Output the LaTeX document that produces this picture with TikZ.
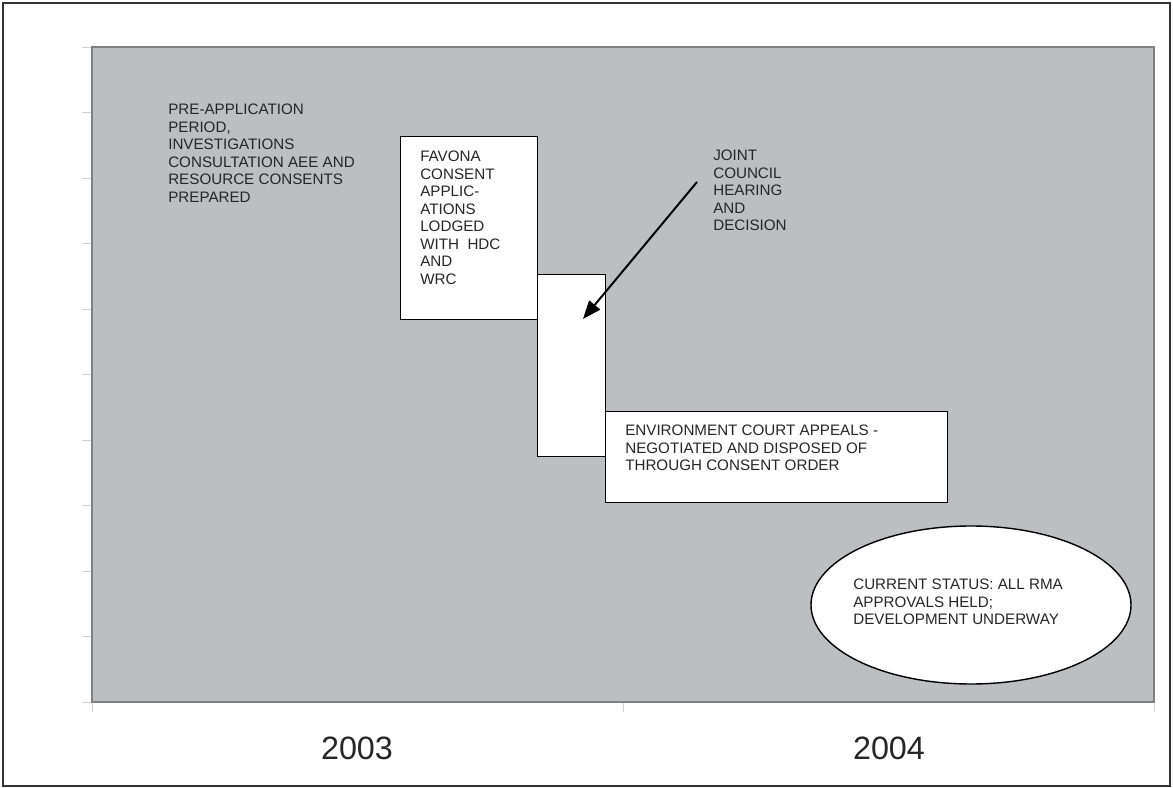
\documentclass[tikz,border=0pt]{standalone}
\usepackage{fontspec}
\setmainfont{Liberation Sans}
\usepackage{tikz}
\usetikzlibrary{arrows.meta}
\usetikzlibrary{shapes}
\usetikzlibrary{calc}

\definecolor{chartgray}{HTML}{BDBEC0}
\definecolor{framegray}{HTML}{7F7F7F}
\definecolor{tickgray}{HTML}{D2D2D2}

\begin{document}
\begin{tikzpicture}[x=0.025cm,y=-0.025cm,
  stagebox/.style={rectangle,draw=black,fill=white,line width=1pt,inner sep=0pt,anchor=north west},
  stagetext/.style={anchor=north west,inner sep=0pt,align=left,font=\fontsize{10.8}{12.45}\selectfont,text=black!85},
  yearlabel/.style={font=\fontsize{23}{27}\selectfont,text=black!85},
  pointer/.style={-{Triangle[length=13pt,width=10pt]},line width=1.4pt}]
\useasboundingbox (0,0) rectangle (1173,788);
\draw[line width=1.2pt,black!80] (3,3) rectangle (1170,786);

\foreach \k in {0,...,10}
  \draw[tickgray,line width=0.6pt] (82,47+65.5*\k) -- (92,47+65.5*\k);
\foreach \x in {92,623,1154}
  \draw[tickgray,line width=0.6pt] (\x,702) -- (\x,712);
\draw[fill=chartgray,draw=framegray,line width=1.4pt] (92,47) rectangle (1154,702);

\node [stagebox,minimum width=137*0.025cm,minimum height=183*0.025cm] (lodged) at (400,136) {};
\node [stagebox,minimum width=68*0.025cm,minimum height=182*0.025cm] (hearing) at (537,274) {};
\node [stagebox,minimum width=342*0.025cm,minimum height=91*0.025cm] (appeal) at (605,411) {};
\node [ellipse,draw=black,fill=white,line width=1pt,inner sep=0pt,
  minimum width=320*0.025cm,minimum height=158*0.025cm] (status) at (971,605) {};

\node [stagetext] (preapp) at (168,104) {PRE-APPLICATION\\PERIOD,\\INVESTIGATIONS\\CONSULTATION AEE AND\\RESOURCE CONSENTS\\PREPARED};
\node [stagetext] (lodgedtext) at (420,151) {FAVONA\\CONSENT\\APPLIC-\\ATIONS\\LODGED\\WITH\ \ HDC\\AND\\WRC};
\node [stagetext] (joint) at (713,150) {JOINT\\COUNCIL\\HEARING\\AND\\DECISION};
\node [stagetext] (appealtext) at (625,425) {ENVIRONMENT COURT APPEALS -\\NEGOTIATED AND DISPOSED OF\\THROUGH CONSENT ORDER};
\node [stagetext] (statustext) at (853,579) {CURRENT STATUS: ALL RMA\\APPROVALS HELD;\\DEVELOPMENT UNDERWAY};

\coordinate (hearingfrom) at (697,182);
\coordinate (hearingto) at (583,319);
\draw [pointer] (hearingfrom) -- (hearingto);

\node [yearlabel] (y2003) at (357,748) {2003};
\node [yearlabel] (y2004) at (889,748) {2004};
\end{tikzpicture}
\end{document}
